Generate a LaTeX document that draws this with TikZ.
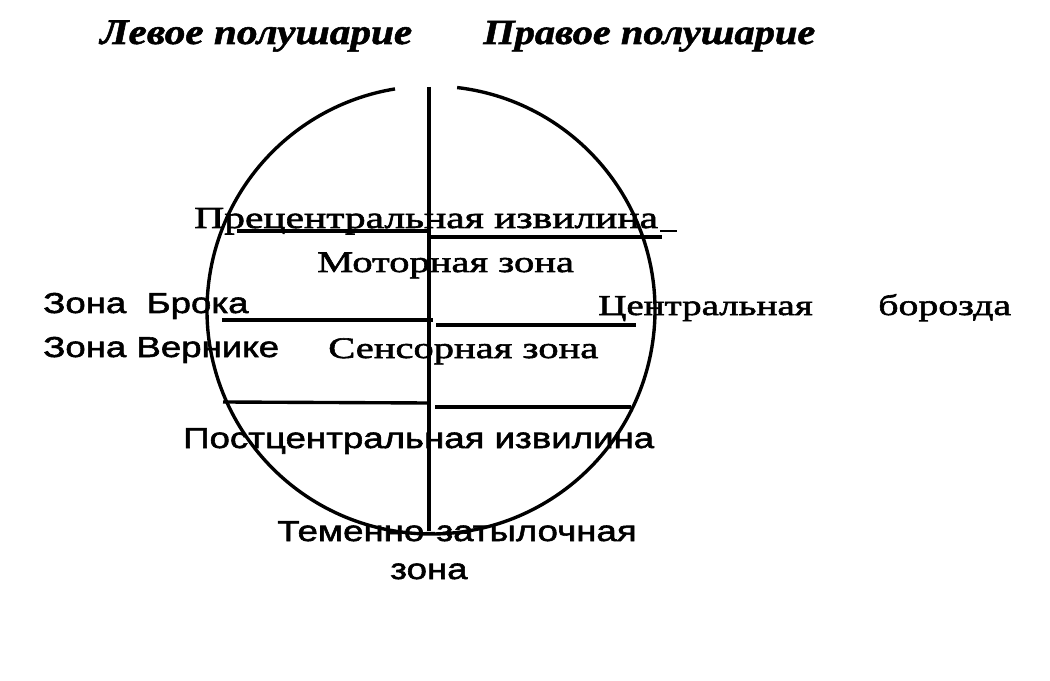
\documentclass[tikz,border=0pt]{standalone}
\usepackage{fontspec}
\setmainfont[FakeStretch=1.36, FakeBold=2]{Liberation Serif}
\newfontfamily\sansw[FakeStretch=1.27, FakeBold=2]{Liberation Sans}
\newfontfamily\titlew[FakeStretch=1.15, FakeBold=1.5]{Liberation Serif}

\begin{document}
\begin{tikzpicture}[x=0.025cm, y=-0.025cm]
        \useasboundingbox (0,0) rectangle (1050,681);
        \begin{scope}[every path/.style={draw, line width=2.4pt}]
            % hemisphere outline, open at the top
            \draw (431,310) ++(276.7:224) arc [start angle=276.7, end angle=620.75, radius=224];
            \draw (429,87) -- (429,531);
            \draw (237,231) -- (428,231);
            \draw (429,237) -- (662,237);
            \draw (222,320) -- (433,320);
            \draw (436,325) -- (636,325);
            \draw (223,402) -- (430,403);
            \draw (435,407) -- (631,407);
            \draw[line width=1.5pt] (660,231) -- (677,231);
        \end{scope}
        \begin{scope}[every node/.style={anchor=base west, inner sep=0}]
            \node (left) at (100,44) {\titlew\fontsize{25.5}{28}\selectfont\bfseries\itshape Левое полушарие};
            \node (right) at (483,44) {\titlew\fontsize{25}{28}\selectfont\bfseries\itshape Правое полушарие};
            \node (pre) at (194,228) {\fontsize{21.7}{24}\selectfont Прецентральная извилина};
            \node (motor) at (317,272) {\fontsize{21.2}{24}\selectfont Моторная зона};
            \node (broca) at (43,313) {\sansw\fontsize{20.5}{24}\selectfont Зона\ \ Брока};
            \node (wernicke) at (43,357) {\sansw\fontsize{20.5}{24}\selectfont Зона Вернике};
            \node (central) at (598,315) {\fontsize{20.4}{24}\selectfont Центральная};
            \node (furrow) at (878,315) {\fontsize{20.8}{24}\selectfont борозда};
            \node (sensor) at (328,358) {\fontsize{21.2}{24}\selectfont Сенсорная зона};
            \node (post) at (183,448) {\sansw\fontsize{20.5}{24}\selectfont Постцентральная извилина};
            \node (parietal) at (277,541) {\sansw\fontsize{20.5}{24}\selectfont Теменно-затылочная};
            \node (zone) at (390,579) {\sansw\fontsize{20.5}{24}\selectfont зона};
        \end{scope}
    \end{tikzpicture}
\end{document}
